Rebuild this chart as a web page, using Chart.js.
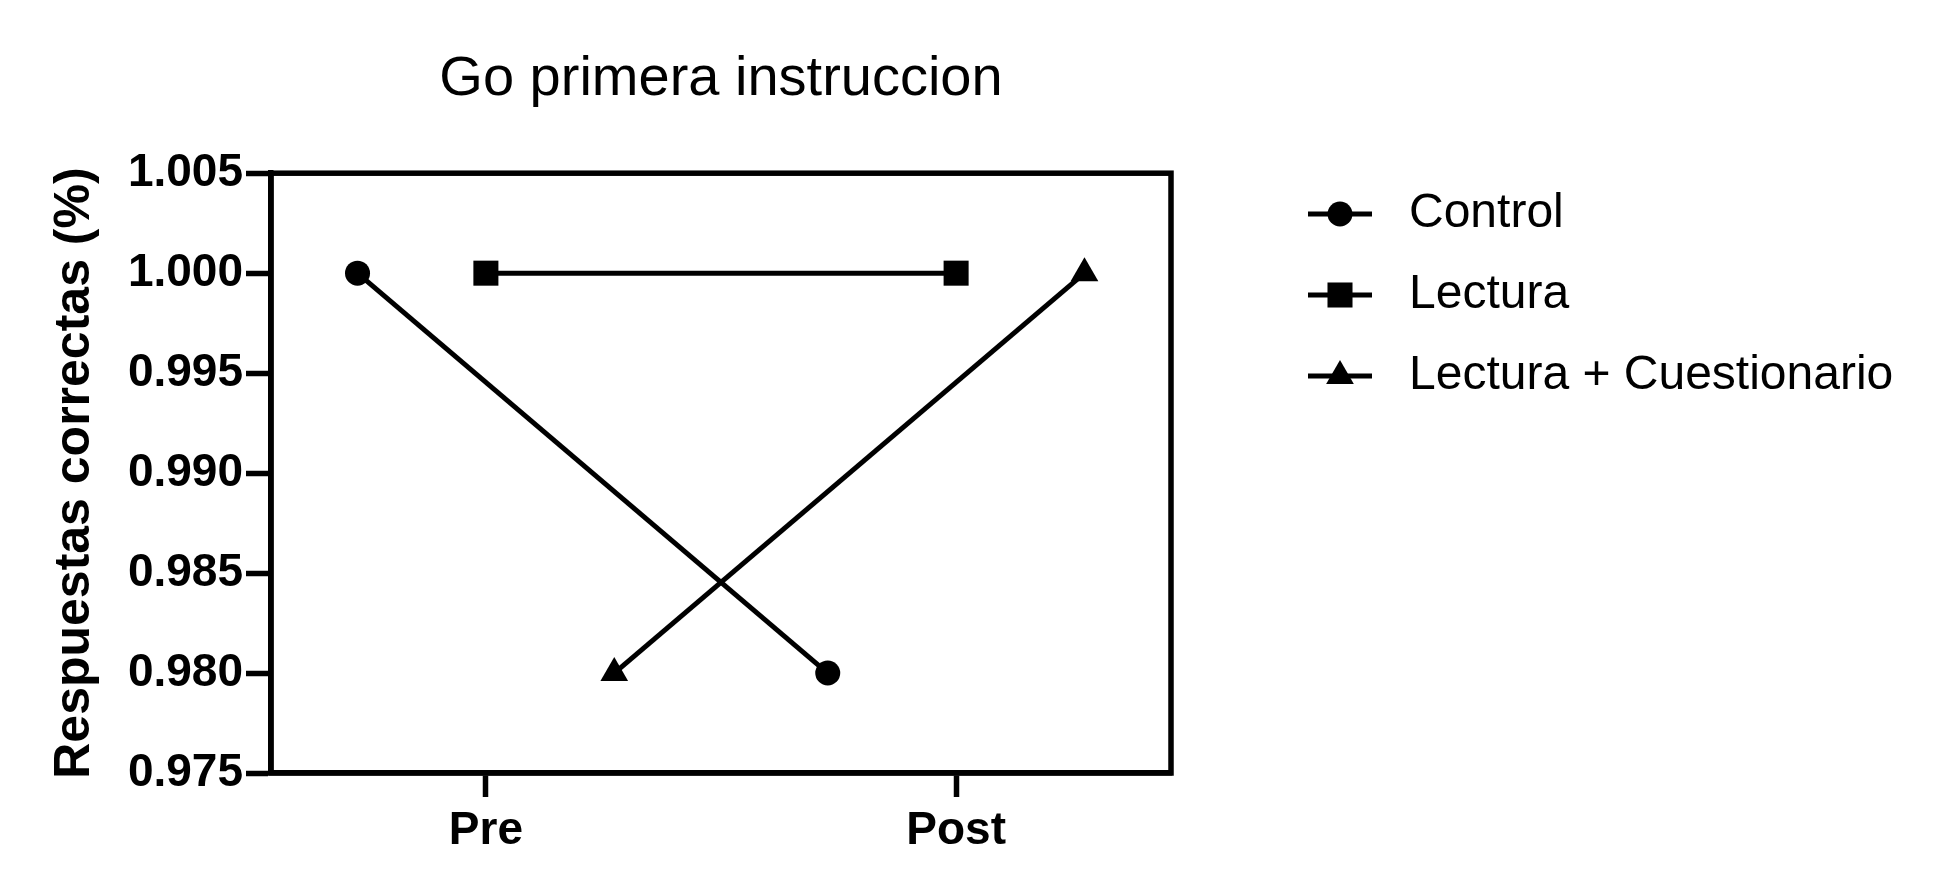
<!DOCTYPE html>
<html>
<head>
<meta charset="utf-8">
<script src="https://cdn.jsdelivr.net/npm/chart.js@4/dist/chart.umd.min.js"></script>
<style>
  html, body { margin: 0; padding: 0; background: #fff; }
  #wrap { width: 1952px; height: 895px; position: relative; }
</style>
</head>
<body>
<div id="wrap"><canvas id="chart"></canvas></div>
<script>
// ── Data ──────────────────────────────────────────────
const titleText = 'Go primera instruccion';
const yTitle = 'Respuestas correctas (%)';
const timepoints = ['Pre', 'Post'];
const seriesNames = ['Control', 'Lectura', 'Lectura + Cuestionario'];
const controlValues = [1.000, 0.980];
const lecturaValues = [1.000, 1.000];
const cuestionarioValues = [0.980, 1.000];
const yTicks = [0.975, 0.980, 0.985, 0.990, 0.995, 1.000, 1.005];

// grouped layout: each series is nudged sideways around its time point
const dodge = [-0.273, 0, 0.273];
const markers = [
  { style: 'circle', radius: 12.5 },
  { style: 'rect', radius: 17.7 },
  { style: 'triangle', radius: 16 },
];

const fontFamily = '"Liberation Sans", Arial, Helvetica, sans-serif';
const ink = '#000';
const axisWidth = 5.5;

function toPoints(values, i) {
  return values.map((v, t) => ({ x: t + 1 + dodge[i], y: v }));
}

const allValues = [controlValues, lecturaValues, cuestionarioValues];
const datasets = allValues.map((vals, i) => ({
  label: seriesNames[i],
  data: toPoints(vals, i),
  showLine: true,
  borderColor: ink,
  backgroundColor: ink,
  borderWidth: 5,
  pointStyle: markers[i].style,
  pointRadius: markers[i].radius,
  pointHoverRadius: markers[i].radius,
  pointBorderWidth: 0,
  pointBackgroundColor: ink,
  clip: false,
}));

// full frame around the plot area
const boxPlugin = {
  id: 'box',
  afterDatasetsDraw(chart) {
    const { ctx, chartArea: a } = chart;
    ctx.save();
    ctx.strokeStyle = ink;
    ctx.lineWidth = axisWidth;
    ctx.strokeRect(a.left, a.top, a.right - a.left, a.bottom - a.top);
    ctx.restore();
  },
};

// line + marker legend, to the right of the plot
const legendPlugin = {
  id: 'lineLegend',
  afterDraw(chart) {
    const { ctx } = chart;
    const x0 = 1308, x1 = 1372, textX = 1409;
    const rows = [214, 295, 376];
    ctx.save();
    chart.data.datasets.forEach((ds, i) => {
      const y = rows[i];
      ctx.strokeStyle = ink;
      ctx.lineWidth = 5;
      ctx.beginPath();
      ctx.moveTo(x0, y);
      ctx.lineTo(x1, y);
      ctx.stroke();
      ctx.fillStyle = ink;
      Chart.helpers.drawPoint(ctx, {
        pointStyle: ds.pointStyle,
        radius: ds.pointRadius,
        rotation: 0,
        borderWidth: 0,
      }, (x0 + x1) / 2, y);
      ctx.fillStyle = ink;
      ctx.font = `48px ${fontFamily}`;
      ctx.textBaseline = 'middle';
      ctx.textAlign = 'left';
      ctx.fillText(ds.label, textX, y);
    });
    ctx.restore();
  },
};

new Chart(document.getElementById('chart'), {
  type: 'scatter',
  data: { datasets },
  plugins: [boxPlugin, legendPlugin],
  options: {
    responsive: true,
    maintainAspectRatio: false,
    animation: false,
    layout: { padding: { top: 0, left: 0, right: 781, bottom: 0 } },
    plugins: {
      legend: { display: false },
      tooltip: { enabled: false },
      title: {
        display: true,
        text: titleText,
        color: ink,
        fullSize: false,
        font: { family: fontFamily, size: 56, weight: 'normal', lineHeight: 1.2 },
        padding: { top: 46, bottom: 60 },
      },
    },
    scales: {
      x: {
        type: 'linear',
        min: 0.543,
        max: 2.457,
        afterBuildTicks: (scale) => {
          scale.ticks = timepoints.map((_, i) => ({ value: i + 1 }));
        },
        afterFit: (scale) => { scale.height = 122; },
        grid: {
          display: true,
          drawOnChartArea: false,
          drawTicks: true,
          tickLength: 24,
          tickWidth: axisWidth,
          tickColor: ink,
        },
        border: { display: true, color: ink, width: axisWidth },
        ticks: {
          color: ink,
          padding: 7,
          maxRotation: 0,
          font: { family: fontFamily, size: 46, weight: 'bold', lineHeight: 1.2 },
          callback: (v) => timepoints[Math.round(v) - 1] ?? '',
        },
      },
      y: {
        type: 'linear',
        min: 0.975,
        max: 1.005,
        afterBuildTicks: (scale) => {
          scale.ticks = yTicks.map((v) => ({ value: v }));
        },
        afterFit: (scale) => { scale.width = 271; },
        grid: {
          display: true,
          drawOnChartArea: false,
          drawTicks: true,
          tickLength: 25,
          tickWidth: axisWidth,
          tickColor: ink,
        },
        border: { display: true, color: ink, width: axisWidth },
        ticks: {
          color: ink,
          padding: 3,
          font: { family: fontFamily, size: 46, weight: 'bold', lineHeight: 1.2 },
          callback: (v) => Number(v).toFixed(3),
        },
        title: {
          display: true,
          text: yTitle,
          color: ink,
          padding: { top: 45, bottom: 0 },
          font: { family: fontFamily, size: 50, weight: 'bold', lineHeight: 1.2 },
        },
      },
    },
  },
});
</script>
</body>
</html>
